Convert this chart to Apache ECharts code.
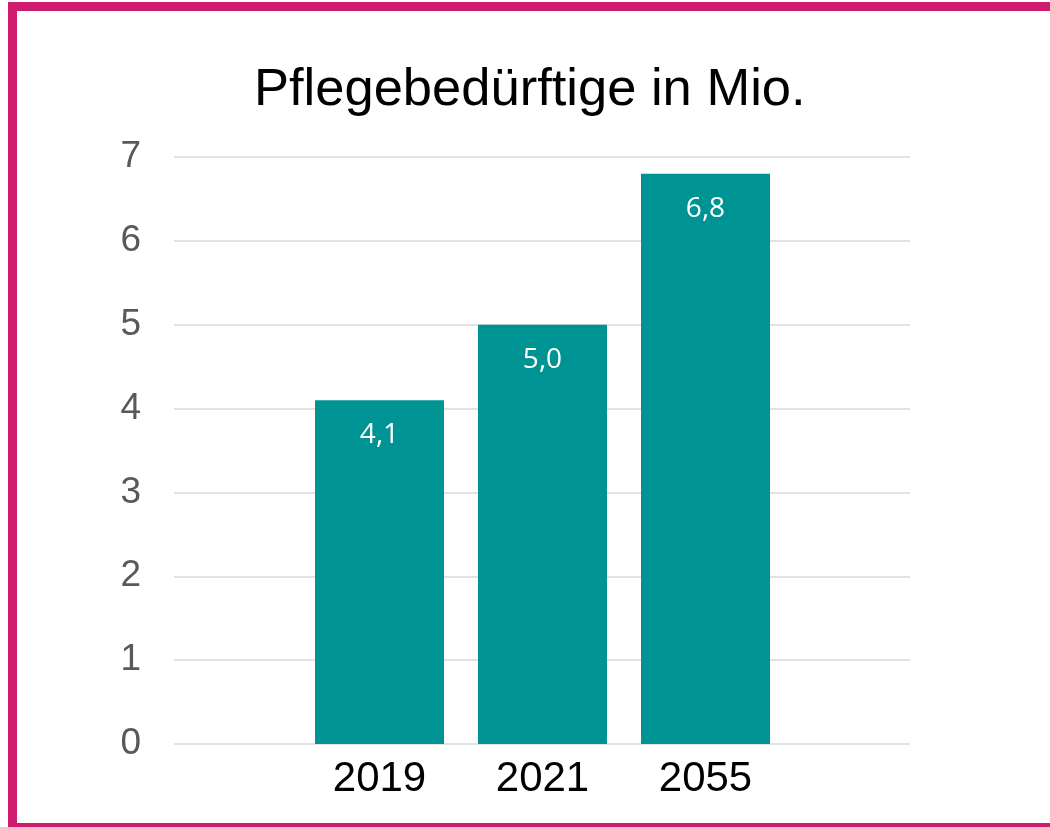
<!DOCTYPE html>
<html>
	<head>
		<meta charset="utf-8">
		<title>Pflegebedürftige in Mio.</title>
		<style>
			html,body{margin:0;padding:0;background:#fff;overflow:hidden;}
			#chart{width:1050px;height:827px;}
		</style>
	</head>
	<body>
		<div id="chart"></div>
		<script src="https://cdn.jsdelivr.net/npm/echarts@6/dist/echarts.min.js" type="text/javascript" charset="utf-8"></script>
		<script type="text/javascript">
			// daten
			var years = ['2019', '2021', '2055'];
			var pflegeMio = [4.1, 5.0, 6.8];
			var yTicks = [0, 1, 2, 3, 4, 5, 6, 7];

			var myChart = echarts.init(document.getElementById('chart'));
			var option = {
				animation: false,
				title: {
					text: 'Pflegebedürftige in Mio.',
					left: 254,
					top: 64,
					padding: 0,
					textStyle: {
						fontFamily: 'Liberation Sans',
						fontSize: 52.5,
						fontWeight: 'normal',
						color: '#000'
					}
				},
				graphic: [{
					type: 'rect',
					shape: {x: 12.5, y: 6.5, width: 1100, height: 821},
					style: {fill: 'none', stroke: '#D01C6F', lineWidth: 9},
					silent: true
				}],
				grid: [
					// gitterlinien + y-achse
					{left: 174, right: 140, top: 157, bottom: 83},
					// balken
					{left: 298, right: 263, top: 157, bottom: 83}
				],
				xAxis: [{
					gridIndex: 0,
					type: 'value',
					min: 0,
					max: 1,
					show: false
				}, {
					gridIndex: 1,
					type: 'category',
					data: years,
					axisLine: {show: false},
					axisTick: {show: false},
					axisLabel: {
						margin: 14,
						fontFamily: 'Liberation Sans',
						fontSize: 42,
						color: '#000'
					}
				}],
				yAxis: [{
					gridIndex: 0,
					type: 'value',
					min: yTicks[0],
					max: yTicks[yTicks.length - 1],
					interval: 1,
					axisLine: {show: false},
					axisTick: {show: false},
					axisLabel: {
						margin: 33,
						fontFamily: 'Liberation Sans',
						fontSize: 37,
						color: '#595959'
					},
					splitLine: {
						lineStyle: {color: '#D9D9D9', width: 1.5}
					}
				}, {
					gridIndex: 1,
					type: 'value',
					min: yTicks[0],
					max: yTicks[yTicks.length - 1],
					interval: 1,
					show: false,
					splitLine: {show: false}
				}],
				series: [{
					type: 'bar',
					xAxisIndex: 1,
					yAxisIndex: 1,
					data: pflegeMio,
					barWidth: 129,
					itemStyle: {color: '#009393'},
					label: {
						show: true,
						position: 'insideTop',
						distance: 21,
						fontFamily: 'Open Sans',
						fontSize: 28,
						color: '#fff',
						formatter: function(p){
							return p.value.toFixed(1).replace('.', ',');
						}
					}
				}]
			};
			myChart.setOption(option);
		</script>
	</body>
</html>
